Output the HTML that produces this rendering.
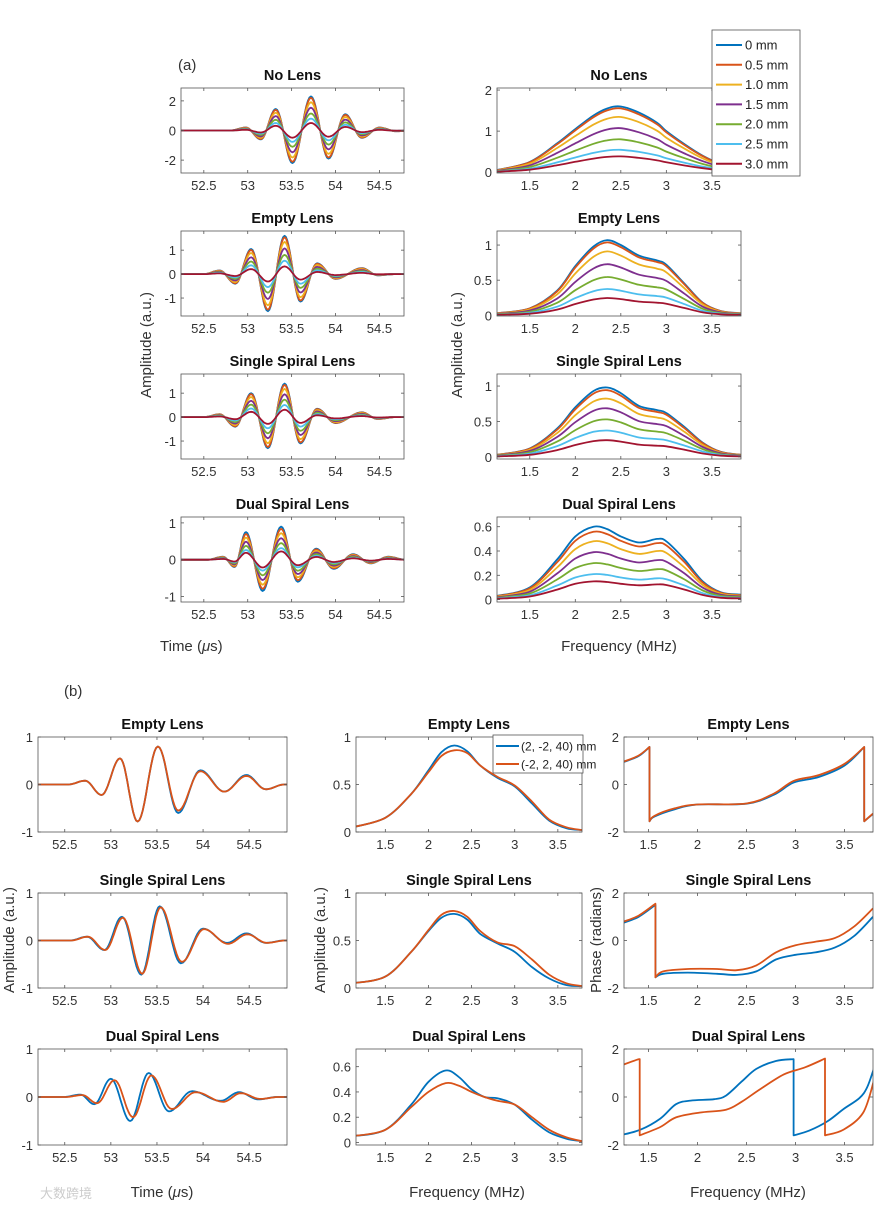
<!DOCTYPE html>
<html><head><meta charset="utf-8"><style>
body{margin:0;background:#fff}
svg{display:block;font-family:"Liberation Sans",Arial,sans-serif}
.tk{font-size:13px;fill:#333}
.tt{font-size:14.5px;font-weight:bold;fill:#111}
.lb{font-size:15px;fill:#333}
</style></head><body>
<svg id="fig" width="892" height="1210" viewBox="0 0 892 1210">
<g id="labels">
<text x="178" y="70" class="lb" font-size="17">(a)</text>
<text x="64" y="696" class="lb" font-size="17">(b)</text>
<text x="160" y="651" class="lb">Time (<tspan font-style="italic">μ</tspan>s)</text>
<text x="619" y="651" class="lb" text-anchor="middle">Frequency (MHz)</text>
<text transform="translate(151,345) rotate(-90)" class="lb" text-anchor="middle">Amplitude (a.u.)</text>
<text transform="translate(462,345) rotate(-90)" class="lb" text-anchor="middle">Amplitude (a.u.)</text>
<text x="162" y="1197" class="lb" text-anchor="middle">Time (<tspan font-style="italic">μ</tspan>s)</text>
<text x="467" y="1197" class="lb" text-anchor="middle">Frequency (MHz)</text>
<text x="748" y="1197" class="lb" text-anchor="middle">Frequency (MHz)</text>
<text transform="translate(14,940) rotate(-90)" class="lb" text-anchor="middle">Amplitude (a.u.)</text>
<text transform="translate(325,940) rotate(-90)" class="lb" text-anchor="middle">Amplitude (a.u.)</text>
<text transform="translate(601,940) rotate(-90)" class="lb" text-anchor="middle">Phase (radians)</text>
<text x="40" y="1198" font-size="13" fill="#ccc">大数跨境</text>
</g>
</svg>
<script>
// ---------- DATA ----------
const offsets = ["0 mm","0.5 mm","1.0 mm","1.5 mm","2.0 mm","2.5 mm","3.0 mm"];
const colors7 = ["#0072BD","#D95319","#EDB120","#7E2F8E","#77AC30","#4DBEEE","#A2142F"];
const aTitles = ["No Lens","Empty Lens","Single Spiral Lens","Dual Spiral Lens"];
const aNoLensT = [52.98,53.15,53.32,53.51,53.72,53.92,54.11,54.30,54.50,54.69];
const aNoLensV = [0.2,-0.6,1.45,-2.2,2.3,-1.9,1.1,-0.5,0.2,-0.05];
const aEmptyT = [52.68,52.86,53.04,53.23,53.42,53.60,53.79,54.00,54.30,54.48];
const aEmptyV = [0.15,-0.4,1.05,-1.55,1.6,-1.15,0.45,-0.2,0.25,-0.05];
const aSingleT = [52.68,52.86,53.04,53.23,53.42,53.60,53.79,54.00,54.30,54.48];
const aSingleV = [0.12,-0.4,1.0,-1.3,1.4,-1.1,0.35,-0.25,0.2,-0.08];
const aDualT = [52.72,52.85,52.98,53.17,53.38,53.57,53.78,53.98,54.20,54.40,54.60];
const aDualV = [0.08,-0.2,0.75,-0.85,0.9,-0.6,0.3,-0.25,0.15,-0.1,0.08];
const aNoLensScale = [1,0.96,0.83,0.67,0.5,0.35,0.22];
const aEmptyScale = [1,0.96,0.84,0.67,0.5,0.35,0.2];
const aSingleScale = [1,0.96,0.84,0.68,0.52,0.36,0.22];
const aDualScale = [1,0.93,0.8,0.65,0.5,0.35,0.25];
const specF = [1.14,1.5,1.8,2.0,2.2,2.35,2.5,2.7,2.9,3.0,3.2,3.4,3.6,3.82];
const aNoLensSpec = [0.05,0.25,0.7,1.05,1.38,1.55,1.6,1.45,1.2,1.0,0.68,0.4,0.2,0.08];
const aEmptySpec = [0.03,0.1,0.35,0.7,0.98,1.07,1.0,0.85,0.78,0.72,0.45,0.18,0.06,0.03];
const aSingleSpec = [0.03,0.12,0.4,0.7,0.93,0.98,0.9,0.72,0.66,0.62,0.42,0.2,0.07,0.03];
const aDualSpec = [0.03,0.1,0.33,0.52,0.6,0.58,0.52,0.47,0.5,0.48,0.33,0.15,0.06,0.04];
const aNoLensSpecScale = [1,0.97,0.84,0.67,0.5,0.34,0.24];
const aEmptySpecScale = [1,0.97,0.85,0.68,0.51,0.35,0.23];
const aSingleSpecScale = [1,0.96,0.84,0.7,0.54,0.38,0.24];
const aDualSpecScale = [1,0.93,0.8,0.65,0.5,0.35,0.25];
const bSeries = ["(2, -2, 40) mm","(-2, 2, 40) mm"];
const bColors = ["#0072BD","#D95319"];
const bTitles = ["Empty Lens","Single Spiral Lens","Dual Spiral Lens"];
const bEmptyT1 = [52.72,52.9,53.1,53.29,53.51,53.73,53.97,54.23,54.47,54.68];
const bEmptyV1 = [0.08,-0.22,0.55,-0.78,0.8,-0.6,0.3,-0.15,0.2,-0.1];
const bEmptyT2 = [52.72,52.9,53.1,53.29,53.51,53.73,53.97,54.23,54.47,54.68];
const bEmptyV2 = [0.08,-0.22,0.55,-0.78,0.8,-0.55,0.28,-0.15,0.18,-0.1];
const bSingleT1 = [52.74,52.93,53.12,53.33,53.53,53.76,54.0,54.26,54.47,54.68];
const bSingleV1 = [0.08,-0.2,0.5,-0.72,0.72,-0.48,0.25,-0.05,0.15,-0.05];
const bSingleT2 = [52.75,52.94,53.13,53.34,53.54,53.77,54.01,54.27,54.48,54.69];
const bSingleV2 = [0.08,-0.2,0.48,-0.7,0.7,-0.45,0.24,-0.07,0.13,-0.05];
const bDualT1 = [52.67,52.82,53.0,53.21,53.41,53.63,53.88,54.19,54.39,54.6];
const bDualV1 = [0.05,-0.15,0.38,-0.5,0.5,-0.3,0.12,-0.08,0.1,-0.05];
const bDualT2 = [52.69,52.85,53.04,53.24,53.44,53.66,53.92,54.22,54.41,54.62];
const bDualV2 = [0.04,-0.13,0.35,-0.42,0.45,-0.25,0.1,-0.1,0.08,-0.04];
const bSpecF = [1.12,1.5,1.8,2.0,2.15,2.3,2.45,2.6,2.8,3.0,3.2,3.4,3.6,3.78];
const bEmptyS1 = [0.05,0.15,0.4,0.65,0.84,0.91,0.85,0.7,0.57,0.48,0.3,0.12,0.04,0.02];
const bEmptyS2 = [0.05,0.15,0.4,0.63,0.8,0.86,0.83,0.7,0.58,0.49,0.32,0.13,0.05,0.02];
const bSingleS1 = [0.05,0.12,0.38,0.6,0.74,0.78,0.72,0.57,0.47,0.38,0.22,0.1,0.03,0.02];
const bSingleS2 = [0.05,0.12,0.38,0.61,0.77,0.81,0.75,0.6,0.48,0.44,0.3,0.14,0.05,0.02];
const bDualSpecF = [1.12,1.5,1.8,2.0,2.2,2.35,2.5,2.65,2.8,3.0,3.2,3.4,3.6,3.78];
const bDualS1 = [0.05,0.1,0.3,0.48,0.57,0.52,0.42,0.36,0.35,0.3,0.18,0.08,0.03,0.01];
const bDualS2 = [0.05,0.1,0.28,0.4,0.47,0.45,0.4,0.36,0.33,0.3,0.2,0.1,0.04,0.01];
const bEmptyPF1 = [1.25,1.4,1.51,1.51,1.56,1.77,2.0,2.5,2.78,2.98,3.24,3.5,3.7,3.7,3.79];
const bEmptyPV1 = [0.95,1.2,1.58,-1.55,-1.35,-1.04,-0.84,-0.81,-0.43,0.08,0.32,0.8,1.58,-1.55,-1.24];
const bEmptyPF2 = [1.25,1.4,1.51,1.51,1.56,1.77,2.0,2.5,2.78,2.98,3.24,3.5,3.7,3.7,3.79];
const bEmptyPV2 = [0.97,1.22,1.58,-1.55,-1.32,-1.0,-0.84,-0.8,-0.38,0.15,0.4,0.87,1.58,-1.55,-1.22];
const bSinglePF1 = [1.25,1.4,1.57,1.57,1.65,1.9,2.2,2.4,2.6,2.8,3.0,3.2,3.4,3.6,3.79];
const bSinglePV1 = [0.75,1.0,1.5,-1.55,-1.4,-1.35,-1.4,-1.45,-1.3,-0.8,-0.6,-0.5,-0.3,0.2,1.0];
const bSinglePF2 = [1.25,1.4,1.57,1.57,1.65,1.9,2.2,2.4,2.6,2.8,3.0,3.2,3.4,3.6,3.79];
const bSinglePV2 = [0.8,1.05,1.55,-1.55,-1.3,-1.2,-1.2,-1.25,-1.05,-0.5,-0.2,-0.05,0.1,0.6,1.35];
const bDualPF1 = [1.21,1.42,1.62,1.78,1.93,2.17,2.29,2.45,2.6,2.8,2.98,2.98,3.14,3.33,3.49,3.65,3.73,3.8];
const bDualPV1 = [-1.6,-1.36,-0.9,-0.3,-0.15,-0.09,0.06,0.64,1.17,1.5,1.58,-1.6,-1.4,-1.0,-0.5,-0.05,0.4,1.2];
const bDualPF2 = [1.21,1.38,1.41,1.41,1.62,1.78,2.02,2.29,2.45,2.64,2.88,3.1,3.3,3.3,3.49,3.69,3.8];
const bDualPV2 = [1.3,1.55,1.58,-1.6,-1.25,-0.85,-0.65,-0.53,-0.2,0.33,0.94,1.24,1.6,-1.6,-1.36,-0.65,0.7];

// ---------- DRAWING ----------
const svg=document.getElementById('fig');
const NS="http://www.w3.org/2000/svg";
function mk(tag,attrs,parent){const e=document.createElementNS(NS,tag);for(const k in attrs)e.setAttribute(k,attrs[k]);(parent||svg).appendChild(e);return e;}
function fmt(v){return String(Math.round(v*100)/100);}
function axes(p,name){
  const g=mk('g',{});
  
  
  const sx=v=>p.x0+(v-p.xl[0])/(p.xl[1]-p.xl[0])*(p.x1-p.x0);
  const sy=v=>p.y1-(v-p.yl[0])/(p.yl[1]-p.yl[0])*(p.y1-p.y0);
  mk('rect',{x:p.x0,y:p.y0,width:p.x1-p.x0,height:p.y1-p.y0,fill:'#fff',stroke:'none'},g);
  const clip=mk('clipPath',{id:'c'+name},g);
  mk('rect',{x:p.x0,y:p.y0,width:p.x1-p.x0,height:p.y1-p.y0},clip);
  const plot=mk('g',{'clip-path':'url(#c'+name+')'},g);
  const over=mk('g',{},g);
  mk('rect',{x:p.x0,y:p.y0,width:p.x1-p.x0,height:p.y1-p.y0,fill:'none',stroke:'#555','stroke-width':0.8},over);
  p.xt.forEach(v=>{const x=sx(v);
    mk('line',{x1:x,x2:x,y1:p.y1,y2:p.y1-3,stroke:'#555','stroke-width':0.8},over);
    mk('line',{x1:x,x2:x,y1:p.y0,y2:p.y0+3,stroke:'#555','stroke-width':0.8},over);
    const t=mk('text',{x:x,y:p.y1+17,class:'tk','text-anchor':'middle'},over);t.textContent=fmt(v);
    
    });
  p.yt.forEach(v=>{const y=sy(v);
    mk('line',{x1:p.x0,x2:p.x0+3,y1:y,y2:y,stroke:'#555','stroke-width':0.8},over);
    mk('line',{x1:p.x1,x2:p.x1-3,y1:y,y2:y,stroke:'#555','stroke-width':0.8},over);
    const t=mk('text',{x:p.x0-5,y:y+5,class:'tk','text-anchor':'end'},over);t.textContent=fmt(v);
    
    });
  const tt=mk('text',{x:(p.x0+p.x1)/2,y:p.y0-8,class:'tt','text-anchor':'middle'},g);tt.textContent=p.title;
  
  
  return {sx,sy,plot};
}
function wave(T,V,scale,ax,xl){
  const pts=[];const tt=[T[0]-0.18,...T,T[T.length-1]+0.2];const vv=[0,...V.map(v=>v*scale),0];
  pts.push([xl[0],0]);
  for(let i=0;i<tt.length-1;i++){for(let k=0;k<12;k++){const s=k/12;const t=tt[i]+(tt[i+1]-tt[i])*s;const v=vv[i]+(vv[i+1]-vv[i])*(1-Math.cos(Math.PI*s))/2;pts.push([t,v]);}}
  pts.push([tt[tt.length-1],0]);pts.push([xl[1],0]);
  return pts.map((q,i)=>(i?'L':'M')+ax.sx(q[0]).toFixed(1)+' '+ax.sy(q[1]).toFixed(1)).join('');
}
function smooth(F,V,ax){
  let segs=[[]];for(let i=0;i<F.length;i++){if(i>0&&F[i]===F[i-1])segs.push([]);segs[segs.length-1].push([ax.sx(F[i]),ax.sy(V[i])]);}
  let d='';segs.forEach((P,si)=>{d+=(si?'L':'M')+P[0][0].toFixed(1)+' '+P[0][1].toFixed(1);
    for(let i=0;i<P.length-1;i++){const p0=P[i-1]||P[i],p1=P[i],p2=P[i+1],p3=P[i+2]||P[i+1];
      const c1=[p1[0]+(p2[0]-p0[0])/6,p1[1]+(p2[1]-p0[1])/6],c2=[p2[0]-(p3[0]-p1[0])/6,p2[1]-(p3[1]-p1[1])/6];
      d+='C'+c1.map(v=>v.toFixed(1)).join(' ')+' '+c2.map(v=>v.toFixed(1)).join(' ')+' '+p2[0].toFixed(1)+' '+p2[1].toFixed(1);}});
  return d;
}
function line(ax,d,color,name){const e=mk('path',{d:d,fill:'none',stroke:color,'stroke-width':1.8,'stroke-linejoin':'round'},ax.plot);
  
  }

const aRows=[[88,173],[231,316],[374,459],[517,602]];
const aTimeYl=[[-2.87,2.87],[-1.75,1.8],[-1.75,1.8],[-1.15,1.16]];
const aTimeYt=[[-2,0,2],[-1,0,1],[-1,0,1],[-1,0,1]];
const aSpecYl=[[-0.02,2.05],[-0.01,1.2],[-0.03,1.17],[-0.02,0.68]];
const aSpecYt=[[0,1,2],[0,0.5,1],[0,0.5,1],[0,0.2,0.4,0.6]];
const aT=[aNoLensT,aEmptyT,aSingleT,aDualT],aV=[aNoLensV,aEmptyV,aSingleV,aDualV],aSc=[aNoLensScale,aEmptyScale,aSingleScale,aDualScale];
const aS=[aNoLensSpec,aEmptySpec,aSingleSpec,aDualSpec],aSS=[aNoLensSpecScale,aEmptySpecScale,aSingleSpecScale,aDualSpecScale];
for(let r=0;r<4;r++){
  const pl={x0:181,x1:404,y0:aRows[r][0],y1:aRows[r][1],xl:[52.24,54.78],yl:aTimeYl[r],xt:[52.5,53,53.5,54,54.5],yt:aTimeYt[r],title:aTitles[r]};
  const ax=axes(pl,'a-time-'+r);
  for(let s=0;s<7;s++)line(ax,wave(aT[r],aV[r],aSc[r][s],ax,pl.xl),colors7[s],'a-time-line');
  const pr={x0:497,x1:741,y0:aRows[r][0],y1:aRows[r][1],xl:[1.14,3.82],yl:aSpecYl[r],xt:[1.5,2,2.5,3,3.5],yt:aSpecYt[r],title:aTitles[r]};
  const ax2=axes(pr,'a-spec-'+r);
  for(let s=0;s<7;s++)line(ax2,smooth(specF,aS[r].map(v=>v*aSS[r][s]),ax2),colors7[s],'a-spectrum-line');
}
{const g=mk('g',{});
 mk('rect',{x:712,y:30,width:88,height:146,fill:'#fff',stroke:'#555','stroke-width':0.8},g);
 offsets.forEach((o,i)=>{const y=45+i*19.8;mk('line',{x1:716,x2:742,y1:y,y2:y,stroke:colors7[i],'stroke-width':2},g);
  const t=mk('text',{x:745,y:y+4.5,'font-size':13,fill:'#222'},g);t.textContent=o;
  
  });}

const bRows=[[737,832],[893,988],[1049,1145]];
const bT=[[bEmptyT1,bEmptyT2],[bSingleT1,bSingleT2],[bDualT1,bDualT2]];
const bV=[[bEmptyV1,bEmptyV2],[bSingleV1,bSingleV2],[bDualV1,bDualV2]];
const bSF=[bSpecF,bSpecF,bDualSpecF];
const bS=[[bEmptyS1,bEmptyS2],[bSingleS1,bSingleS2],[bDualS1,bDualS2]];
const bPF=[[bEmptyPF1,bEmptyPF2],[bSinglePF1,bSinglePF2],[bDualPF1,bDualPF2]];
const bPV=[[bEmptyPV1,bEmptyPV2],[bSinglePV1,bSinglePV2],[bDualPV1,bDualPV2]];
const bSpecYl=[[0,1],[0,1],[-0.02,0.74]],bSpecYt=[[0,0.5,1],[0,0.5,1],[0,0.2,0.4,0.6]];
for(let r=0;r<3;r++){
  const p1={x0:38,x1:287,y0:bRows[r][0],y1:bRows[r][1],xl:[52.21,54.91],yl:[-1,1],xt:[52.5,53,53.5,54,54.5],yt:[-1,0,1],title:bTitles[r]};
  const a1=axes(p1,'b-time-'+r);
  for(let s=0;s<2;s++)line(a1,wave(bT[r][s],bV[r][s],1,a1,p1.xl),bColors[s],'b-time-line');
  const p2={x0:356,x1:582,y0:bRows[r][0],y1:bRows[r][1],xl:[1.16,3.78],yl:bSpecYl[r],xt:[1.5,2,2.5,3,3.5],yt:bSpecYt[r],title:bTitles[r]};
  const a2=axes(p2,'b-spec-'+r);
  for(let s=0;s<2;s++)line(a2,smooth(bSF[r],bS[r][s],a2),bColors[s],'b-spectrum-line');
  const p3={x0:624,x1:873,y0:bRows[r][0],y1:bRows[r][1],xl:[1.25,3.79],yl:[-2,2],xt:[1.5,2,2.5,3,3.5],yt:[-2,0,2],title:bTitles[r]};
  const a3=axes(p3,'b-phase-'+r);
  for(let s=0;s<2;s++)line(a3,smooth(bPF[r][s],bPV[r][s],a3),bColors[s],'b-phase-line');
}
{const g=mk('g',{});
 mk('rect',{x:493,y:735,width:90,height:38,fill:'#fff',stroke:'#555','stroke-width':0.8},g);
 bSeries.forEach((o,i)=>{const y=746+i*18;mk('line',{x1:496,x2:519,y1:y,y2:y,stroke:bColors[i],'stroke-width':2},g);
  const t=mk('text',{x:521,y:y+4.5,'font-size':12,fill:'#222'},g);t.textContent=o;
  
  });}
svg.appendChild(document.getElementById('labels'));
</script>
</body></html>
